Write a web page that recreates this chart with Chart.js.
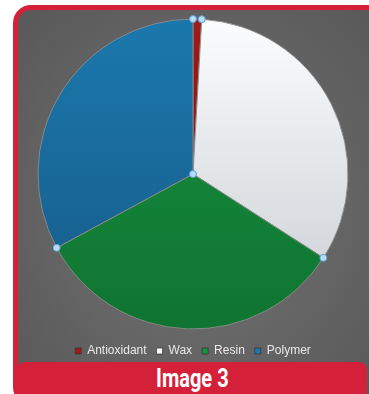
<!DOCTYPE html>
<html>
<head>
<meta charset="utf-8">
<script src="https://cdn.jsdelivr.net/npm/chart.js@4"></script>
<style>
    html, body {
        margin: 0;
        padding: 0;
        background: #ffffff;
        width: 369px;
        height: 394px;
        overflow: hidden;
    }
    .frame {
        position: absolute;
        left: 13px;
        top: 5px;
        width: 372px;
        height: 400px;
        box-sizing: border-box;
        border: 5px solid #d42139;
        border-radius: 18px;
        background: radial-gradient(ellipse at 50% 50%, #747474 0%, #666666 50%, #585858 100%);
    }
    .banner {
        position: absolute;
        left: 17px;
        top: 362px;
        width: 350px;
        height: 40px;
        background: #d42139;
        border-radius: 8px 8px 0 0;
        color: #ffffff;
        text-align: center;
    }
    .banner span {
        display: inline-block;
        font-family: Roboto, "Liberation Sans", sans-serif;
        font-weight: 700;
        font-size: 25px;
        line-height: 34px;
        transform: scaleX(0.8);
    }
    #chart {
        position: absolute;
        left: 0;
        top: 0;
    }
</style>
</head>
<body>
<div class="frame"></div>
<div class="banner"><span>Image 3</span></div>
<canvas id="chart" width="369" height="394"></canvas>
<script>
const labels = ['Antioxidant', 'Wax', 'Resin', 'Polymer'];
const values = [0.9, 33.2, 33.0, 32.9];
const sliceColors = [
    ['#a01a1a', '#7a0e0e'],
    ['#fbfcfd', '#c8cdd2'],
    ['#17913f', '#0f7431'],
    ['#1b78ac', '#165b88']
];
const pieRadius = 155;

const sliceFill = (context) => {
    const chart = context.chart;
    const area = chart.chartArea;
    const pair = sliceColors[context.dataIndex];
    if (!area) {
        return pair[0];
    }
    const cy = (area.top + area.bottom) / 2;
    const g = chart.ctx.createLinearGradient(0, cy - pieRadius, 0, cy + pieRadius);
    g.addColorStop(0, pair[0]);
    g.addColorStop(1, pair[1]);
    return g;
};

// selection handles at slice edges, like the source screenshot
const handles = {
    id: 'handles',
    afterDatasetsDraw(chart) {
        const arcs = chart.getDatasetMeta(0).data;
        const ctx = chart.ctx;
        const pts = [];
        arcs.forEach(a => {
            pts.push([a.x + Math.cos(a.startAngle) * a.outerRadius, a.y + Math.sin(a.startAngle) * a.outerRadius]);
        });
        if (arcs.length) {
            pts.push([arcs[0].x, arcs[0].y]);
        }
        ctx.save();
        pts.forEach(p => {
            ctx.beginPath();
            ctx.arc(p[0], p[1], 3.5, 0, Math.PI * 2);
            ctx.fillStyle = '#b9dcf6';
            ctx.fill();
            ctx.lineWidth = 1;
            ctx.strokeStyle = '#5a9fd6';
            ctx.stroke();
        });
        ctx.restore();
    }
};

const ctx = document.getElementById('chart').getContext('2d');
new Chart(ctx, {
    type: 'pie',
    data: {
        labels,
        datasets: [{
            data: values,
            backgroundColor: sliceFill,
            borderColor: 'rgba(140,140,140,0.9)',
            borderWidth: 1
        }]
    },
    options: {
        responsive: false,
        animation: false,
        radius: pieRadius,
        layout: {
            padding: { left: 18, right: 1, top: 13, bottom: 27 }
        },
        plugins: {
            legend: {
                display: true,
                position: 'bottom',
                labels: {
                    boxWidth: 6,
                    boxHeight: 6,
                    padding: 10,
                    color: '#e8e8e8',
                    font: {
                        family: '"Liberation Sans", Arial, sans-serif',
                        size: 12
                    },
                    generateLabels: (chart) => labels.map((text, i) => ({
                        text,
                        fillStyle: sliceColors[i][0],
                        strokeStyle: 'rgba(50,50,50,0.7)',
                        lineWidth: 1,
                        fontColor: '#e8e8e8',
                        index: i,
                        hidden: false
                    }))
                }
            },
            tooltip: { enabled: false }
        }
    },
    plugins: [handles]
});
</script>
</body>
</html>
